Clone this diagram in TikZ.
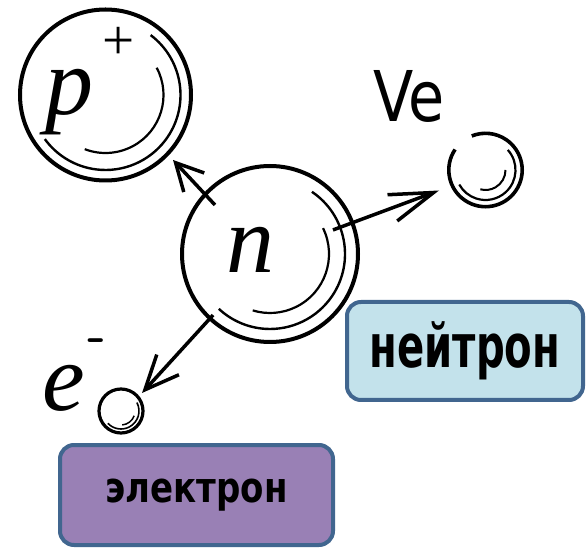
\documentclass[tikz,border=0pt]{standalone}
\usepackage{fontspec}
\usepackage{graphicx}
\setmainfont{Liberation Serif}
\newfontfamily\comic{DejaVu Sans}
\usetikzlibrary{arrows.meta}
\definecolor{boxborder}{HTML}{41668F}
\definecolor{neutronfill}{HTML}{C3E2EB}
\definecolor{electronfill}{HTML}{9980B5}
\begin{document}
\begin{tikzpicture}[x=1pt,y=1pt,
  particle/.style={circle, draw, line width=#1, inner sep=0pt, outer sep=0pt},
  hollow/.style={circle, inner sep=0pt, outer sep=0pt},
  arcmid/.style={line width=#1},
  arrowline/.style={line width=3.5pt},
  labelbox/.style={draw=boxborder, line width=4pt, rounded corners=14pt, inner sep=0pt},
  letter/.style={inner sep=0pt, outer sep=0pt, anchor=base, font=\fontsize{96}{96}\selectfont\itshape}
]
\useasboundingbox (0,0) rectangle (586,549);

% particles
\node[particle=4pt, minimum size=171pt] (p) at (105.5,454) {};
\node[particle=4pt, minimum size=176pt] (n) at (270,295) {};
\node[hollow, minimum size=73.5pt] (ve) at (485.5,379) {};
\node[particle=3.2pt, minimum size=44pt] (e) at (121,138) {};

% Ve outer circle with gap
\draw[line width=3.6pt] ([shift={(146:36.7)}]ve.center) arc[start angle=146, end angle=472, radius=36.7];

% inner arcs
\draw[arcmid=2.4pt] ([shift={(53:75)}]p.center) arc[start angle=53, end angle=-144, radius=75];
\draw[arcmid=2.2pt] ([shift={(28:58)}]p.center) arc[start angle=28, end angle=-111, radius=58];
\draw[arcmid=2.4pt] ([shift={(56:75)}]n.center) arc[start angle=56, end angle=-133, radius=75];
\draw[arcmid=2.2pt] ([shift={(26:59)}]n.center) arc[start angle=26, end angle=-107, radius=59];
\draw[arcmid=2.2pt] ([shift={(42:30)}]ve.center) arc[start angle=42, end angle=-151, radius=30];
\draw[arcmid=2pt] ([shift={(0:20)}]ve.center) arc[start angle=0, end angle=-105, radius=20];
\draw[arcmid=1.6pt] ([shift={(28:18)}]e.center) arc[start angle=28, end angle=-137, radius=18];
\draw[arcmid=1.5pt] ([shift={(-20:14)}]e.center) arc[start angle=-20, end angle=-85, radius=14];

% letters
\node[letter] (pl) at (69,434) {p};
\node[inner sep=0pt, font=\fontsize{57}{57}\selectfont] (plus) at (119,506) {+};
\node[letter] (nl) at (250,276) {n};
\node[letter] (el) at (63.5,139) {e};
\node[inner sep=0pt, font=\fontsize{52}{52}\selectfont\sffamily\bfseries] (minus) at (97.5,203) {-};
\node[inner sep=0pt, anchor=base, font=\fontsize{70}{70}\selectfont\comic] (vel) at (409,427) {\scalebox{0.84}[1]{Ve}};

% arrows
\coordinate (s1) at ([shift={(138.3:73.7)}]n.center);
\coordinate (t1) at ([shift={(-43.9:93.7)}]p.center);
\coordinate (s2) at ([shift={(20.9:67.4)}]n.center);
\coordinate (t2) at ([shift={(203.8:50.8)}]ve.center);
\coordinate (s3) at ([shift={(227:83.5)}]n.center);
\coordinate (t3) at ([shift={(40.6:27.7)}]e.center);
\draw[arrowline, -{Straight Barb[length=27pt,width=28pt]}] (s1) -- (t1);
\draw[arrowline, -{Straight Barb[length=44pt,width=28pt]}] (s2) -- (t2);
\draw[arrowline, -{Straight Barb[length=34pt,width=30pt]}] (s3) -- (t3);

% label boxes
\node[labelbox, fill=neutronfill, minimum width=236pt, minimum height=98pt,
      font=\fontsize{60}{60}\selectfont\comic\bfseries] (nbox) at (465,198) {\scalebox{0.67}[1]{нейтрон}};
\node[labelbox, fill=electronfill, minimum width=273pt, minimum height=100pt,
      font=\fontsize{42}{42}\selectfont\comic\bfseries] (ebox) at (196.5,54) {\scalebox{0.81}[1]{электрон}};
\end{tikzpicture}
\end{document}
